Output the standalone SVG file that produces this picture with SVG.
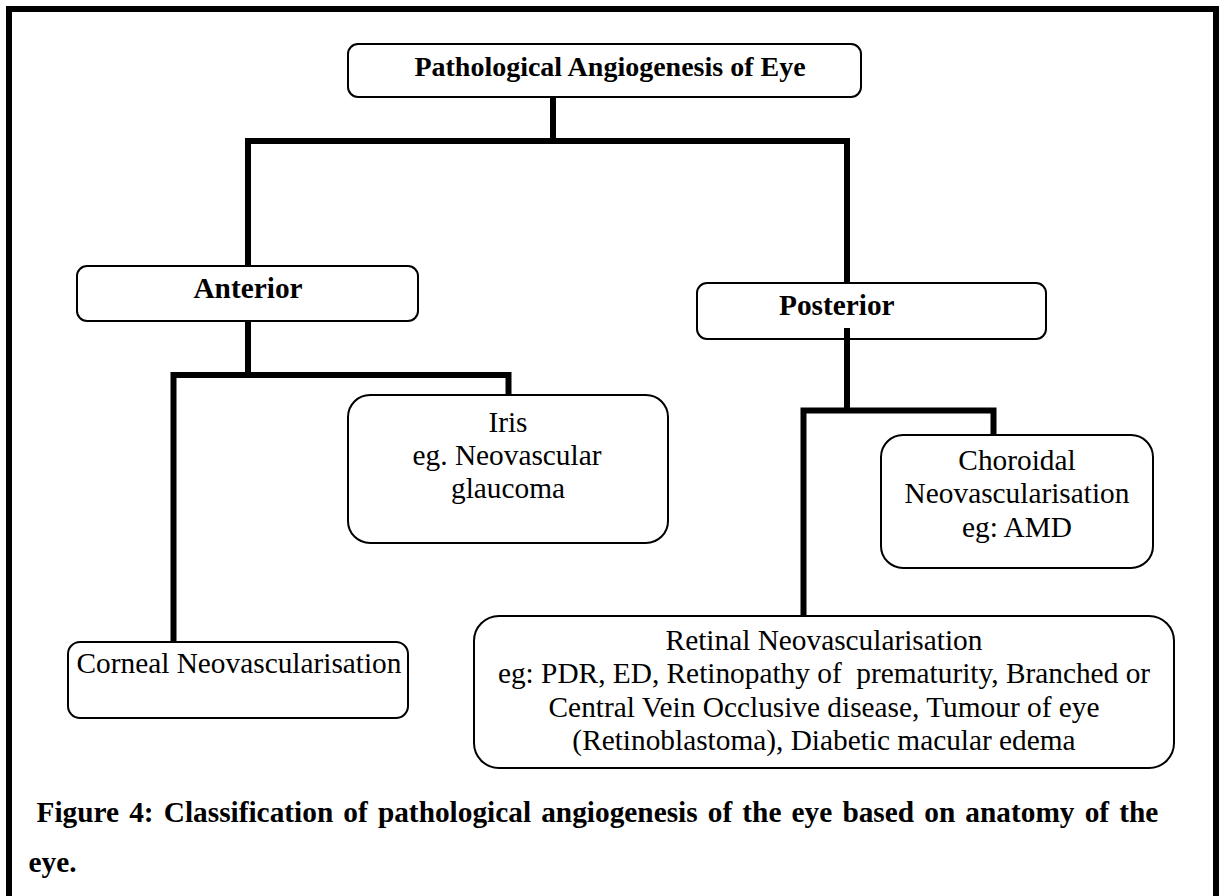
<svg xmlns="http://www.w3.org/2000/svg" width="1219" height="896" viewBox="0 0 1219 896" font-family="'Liberation Serif', 'Times New Roman', Times, serif">
<style>
.box{fill:#fff;stroke:#000;stroke-width:2}
text{font-family:'Liberation Serif','Times New Roman',Times,serif;font-size:29.33px;fill:#000}
.b{font-weight:bold}
.c{text-anchor:middle}
.conn{fill:none;stroke:#000;stroke-width:6;stroke-linejoin:miter;stroke-linecap:butt}
</style>
<rect x="0" y="0" width="1219" height="896" fill="#fff"/>
<rect x="9" y="9" width="1207" height="900" fill="none" stroke="#000" stroke-width="6"/>
<g id="connectors">
<polyline class="conn" points="553,97 553,141"/>
<polyline class="conn" points="248,266 248,141 847,141 847,283"/>
<polyline class="conn" points="248,321 248,375"/>
<polyline class="conn" points="173.5,642 173.5,375 508.5,375 508.5,395"/>
<polyline class="conn" points="847,328 847,410.5"/>
<polyline class="conn" points="803.5,616 803.5,410.5 993.5,410.5 993.5,435"/>
</g>
<g id="node-root">
<rect class="box" x="348" y="44" width="513" height="53" rx="10"/>
<text class="b c" x="610" y="75.5" style="font-size:28px">Pathological Angiogenesis of Eye</text>
</g>
<g id="node-anterior">
<rect class="box" x="77" y="266" width="341" height="55" rx="10"/>
<text class="b c" x="248" y="298">Anterior</text>
</g>
<g id="node-posterior">
<rect class="box" x="697" y="283" width="349" height="56" rx="10"/>
<text class="b" x="779" y="315">Posterior</text>
<polyline class="conn" points="847,328 847,341"/>
</g>
<g id="node-iris">
<rect class="box" x="348" y="395" width="320" height="148" rx="22"/>
<text class="c" x="508" y="431.7">Iris</text>
<text class="c" x="507" y="465">eg. Neovascular</text>
<text class="c" x="508" y="498.3">glaucoma</text>
</g>
<g id="node-corneal">
<rect class="box" x="68" y="642" width="340" height="76" rx="12"/>
<text x="76.5" y="673">Corneal Neovascularisation</text>
</g>
<g id="node-choroidal">
<rect class="box" x="881" y="435" width="272" height="133" rx="22"/>
<text class="c" x="1017" y="470">Choroidal</text>
<text class="c" x="1017" y="503.3">Neovascularisation</text>
<text class="c" x="1017" y="536.7">eg: AMD</text>
</g>
<g id="node-retinal">
<rect class="box" x="474" y="616" width="700" height="152" rx="25"/>
<text class="c" x="824" y="650">Retinal Neovascularisation</text>
<text class="c" x="824" y="683.3" xml:space="preserve">eg: PDR, ED, Retinopathy of  prematurity, Branched or</text>
<text class="c" x="824" y="716.7">Central Vein Occlusive disease, Tumour of eye</text>
<text class="c" x="824" y="750">(Retinoblastoma), Diabetic macular edema</text>
</g>
<g id="caption">
<text class="b" x="36.5" y="822" word-spacing="2.8">Figure 4: Classification of pathological angiogenesis of the eye based on anatomy of the</text>
<text class="b" x="28.5" y="872">eye.</text>
</g>
</svg>
